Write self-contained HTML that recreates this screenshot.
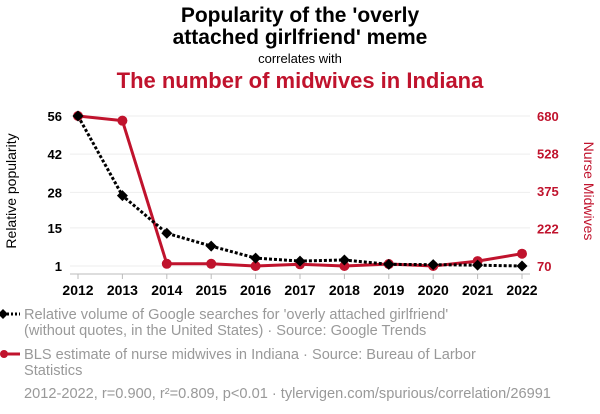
<!DOCTYPE html>
<html><head><meta charset="utf-8"><style>
html,body{margin:0;padding:0;background:#fff;width:600px;height:414px;overflow:hidden}
text{font-family:"Liberation Sans",Arial,sans-serif}
</style></head><body>
<svg id="chart" width="600" height="414" xmlns="http://www.w3.org/2000/svg">
<text x="300" y="22" text-anchor="middle" font-size="21" font-weight="bold" fill="#000">Popularity of the 'overly</text>
<text x="300" y="44" text-anchor="middle" font-size="21" font-weight="bold" fill="#000">attached girlfriend' meme</text>
<text x="300" y="63" text-anchor="middle" font-size="13" fill="#000">correlates with</text>
<text x="300" y="88" text-anchor="middle" font-size="22" font-weight="bold" fill="#c0132d">The number of midwives in Indiana</text>
<g id="grid"></g>
<g id="axes"></g>
<text transform="translate(16,191) rotate(-90)" text-anchor="middle" font-size="14" fill="#000">Relative popularity</text>
<text transform="translate(584,191) rotate(90)" text-anchor="middle" font-size="14" fill="#c0132d">Nurse Midwives</text>
<g id="series"></g>
<g>
<line x1="3" y1="314" x2="20" y2="314" stroke="#000" stroke-width="3" stroke-dasharray="2,2"/>
<path d="M3 309 L8 314 L3 319 L-2 314Z" fill="#000"/>
<text x="24" y="319" font-size="14.6" fill="#999">Relative volume of Google searches for 'overly attached girlfriend'</text>
<text x="24" y="335" font-size="14.6" fill="#999">(without quotes, in the United States) · Source: Google Trends</text>
</g>
<g>
<line x1="3" y1="354" x2="20" y2="354" stroke="#c0132d" stroke-width="3"/>
<circle cx="4" cy="354" r="4" fill="#c0132d"/>
<text x="24" y="359" font-size="14.6" fill="#999">BLS estimate of nurse midwives in Indiana · Source: Bureau of Larbor</text>
<text x="24" y="375" font-size="14.6" fill="#999">Statistics</text>
</g>
<text x="24" y="398" font-size="14.6" fill="#999">2012-2022, r=0.900, r²=0.809, p&lt;0.01 · tylervigen.com/spurious/correlation/26991</text>
</svg>
<script>
const years=[2012,2013,2014,2015,2016,2017,2018,2019,2020,2021,2022];
const google=[56,26.8,13,8.3,3.9,2.8,3.2,1.6,1.5,1.3,1];
const midwives=[680,661,79,79,70,77,70,78,70,90,120];
const leftTicks=[1,15,28,42,56];
const rightTicks=[70,222,375,528,680];
const NS="http://www.w3.org/2000/svg";
const x=y=>78+(y-2012)*(522-78)/10;
const yL=v=>266-(v-1)*(150/55);
const yR=v=>266-(v-70)*(150/610);
function el(t,a,p){const e=document.createElementNS(NS,t);for(const k in a)e.setAttribute(k,a[k]);p.appendChild(e);return e;}
const grid=document.getElementById('grid'),axes=document.getElementById('axes'),ser=document.getElementById('series');
leftTicks.forEach((t,i)=>{
 const g=el('line',{x1:70,x2:530,y1:yL(t),y2:yL(t),stroke:'#eee','stroke-width':1},grid);
 
 
 const a=el('text',{x:62,y:yL(t)+5,'text-anchor':'end','font-size':13,'font-weight':'bold',fill:'#000'},axes);a.textContent=t;
 
 
});
rightTicks.forEach(t=>{
 const a=el('text',{x:537,y:yR(t)+5,'font-size':13,'font-weight':'bold',fill:'#c0132d'},axes);a.textContent=t;
 
 
});
const ax=el('line',{x1:70,x2:530,y1:274,y2:274,stroke:'#bbb','stroke-width':1},axes);


years.forEach(yr=>{
 const tk=el('line',{x1:x(yr),x2:x(yr),y1:274,y2:279,stroke:'#bbb'},axes);
 
 
 const t=el('text',{x:x(yr),y:295,'text-anchor':'middle','font-size':14,'font-weight':'bold',fill:'#000'},axes);t.textContent=yr;
 
 
});
const rl=el('polyline',{points:years.map((y,i)=>x(y)+','+yR(midwives[i])).join(' '),fill:'none',stroke:'#c0132d','stroke-width':3},ser);


years.forEach((y,i)=>{const c=el('circle',{cx:x(y),cy:yR(midwives[i]),r:5,fill:'#c0132d'},ser);
 
 });
const bl=el('polyline',{points:years.map((y,i)=>x(y)+','+yL(google[i])).join(' '),fill:'none',stroke:'#000','stroke-width':3,'stroke-dasharray':'3,2'},ser);


years.forEach((y,i)=>{const cx=x(y),cy=yL(google[i]);
 const d=el('path',{d:`M${cx} ${cy-5.5}L${cx+5.5} ${cy}L${cx} ${cy+5.5}L${cx-5.5} ${cy}Z`,fill:'#000'},ser);
 
 });
</script>
</body></html>
